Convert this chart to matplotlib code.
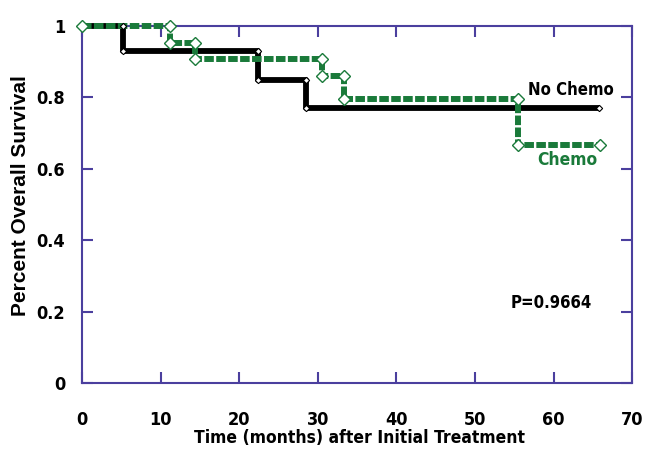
import numpy as np
import matplotlib
matplotlib.use("Agg")
import matplotlib.pyplot as plt

plt.rcParams['font.family'] = ['DejaVu Sans']
plt.rcParams['font.stretch'] = 'condensed'

# Kaplan-Meier steps
nochemo_times = [0, 5.2, 22.4, 28.5]
nochemo_surv = [1.0, 0.931, 0.849, 0.769]
nochemo_end = 65.8

chemo_times = [0, 11.2, 14.4, 30.5, 33.3, 55.5]
chemo_surv = [1.0, 0.953, 0.908, 0.86, 0.797, 0.668]
chemo_end = 65.9

x_ticks = [0, 10, 20, 30, 40, 50, 60, 70]
y_ticks = [0, 0.2, 0.4, 0.6, 0.8, 1]
y_ticklabels = ["0", "0.2", "0.4", "0.6", "0.8", "1"]


def step_vertices(times, surv, end):
    # corner points of a post-step curve
    xs = [times[0]]
    ys = [surv[0]]
    for i in range(1, len(times)):
        xs += [times[i], times[i]]
        ys += [surv[i - 1], surv[i]]
    xs.append(end)
    ys.append(surv[-1])
    return np.array(xs), np.array(ys)


axis_col = "#4b3f9e"
green = "#1a7a3a"

fig = plt.figure(figsize=(6.51, 4.49), dpi=100)
ax = fig.add_axes([0.126, 0.147, 0.845, 0.795])

bx, by = step_vertices(nochemo_times, nochemo_surv, nochemo_end)
gx, gy = step_vertices(chemo_times, chemo_surv, chemo_end)

ax.plot(bx, by, color="black", lw=4.2, solid_capstyle="butt", zorder=3,
        clip_on=False)
ax.plot(bx[1:], by[1:], ls="none", marker="D", ms=3.2, mfc="white",
        mec="black", mew=0.8, zorder=5, clip_on=False)

ax.plot(gx, gy, color=green, lw=4.3, dashes=(1.6, 0.4),
        dash_capstyle="butt", zorder=4, clip_on=False)
ax.plot(gx, gy, ls="none", marker="D", ms=6, mfc="white",
        mec=green, mew=1.0, zorder=6, clip_on=False)

ax.text(56.8, 0.82, "No Chemo", fontsize=12, fontweight="bold",
        color="black", ha="left", va="center")
ax.text(57.9, 0.625, "Chemo", fontsize=12.5, fontweight="bold",
        color=green, ha="left", va="center")
ax.text(54.5, 0.224, "P=0.9664", fontsize=12, fontweight="bold",
        color="black", ha="left", va="center")

ax.set_xlim(0, 70)
ax.set_ylim(0, 1)
ax.set_xticks(x_ticks)
ax.set_yticks(y_ticks)
ax.set_yticklabels(y_ticklabels)

for sp in ax.spines.values():
    sp.set_color(axis_col)
    sp.set_linewidth(1.5)
ax.tick_params(direction="in", length=8, width=1.5, color=axis_col,
               top=True, right=True, labelsize=13, pad=12)
for lab in ax.get_xticklabels() + ax.get_yticklabels():
    lab.set_fontweight("bold")
ax.tick_params(axis="x", pad=20)

ax.set_xlabel("Time (months) after Initial Treatment", fontsize=12.5,
              fontweight="bold")
ax.xaxis.set_label_coords(0.505, -0.13)
ax.set_ylabel("Percent Overall Survival", fontsize=15, fontweight="bold",
              family=["Liberation Sans", "DejaVu Sans"], stretch="normal")
ax.yaxis.set_label_coords(-0.095, 0.525)

fig.savefig("out.png", dpi=100)
